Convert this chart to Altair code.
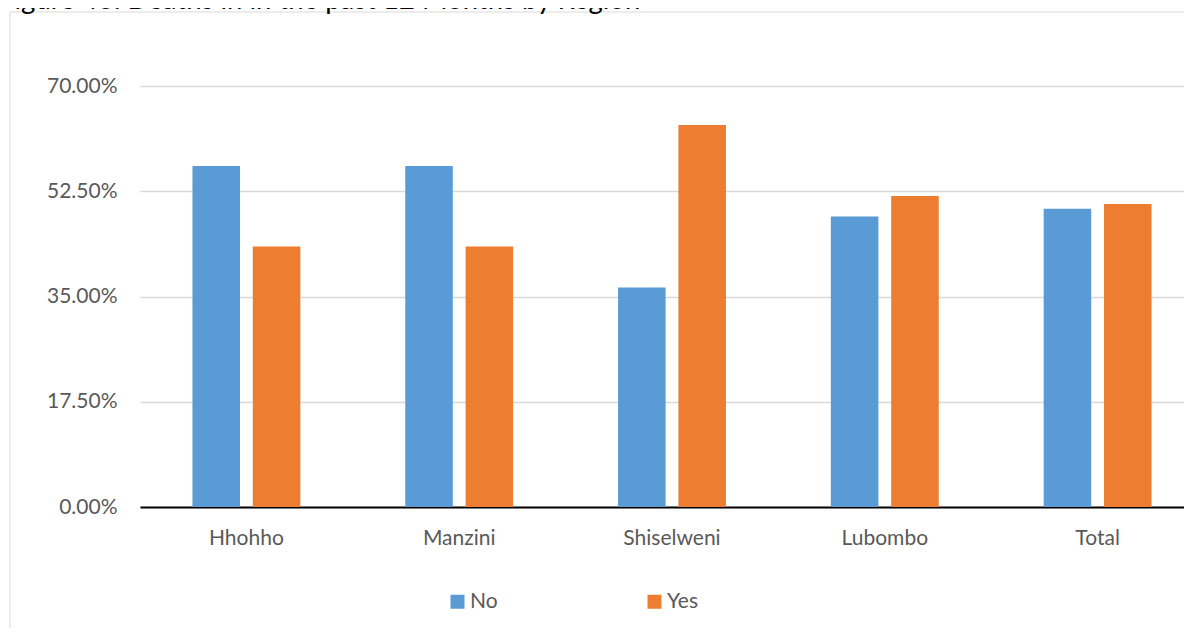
import altair as alt
import pandas as pd

regions = ["Hhohho", "Manzini", "Shiselweni", "Lubombo", "Total"]
no_vals = [56.7, 56.7, 36.5, 48.3, 49.6]
yes_vals = [43.3, 43.3, 63.5, 51.7, 50.4]
series = ["No", "Yes"]
colors = ["#5B9BD5", "#ED7D31"]
y_ticks = [0, 17.5, 35, 52.5, 70]
title = "Figure 43: Deaths in in the past 12 Months by Region"

rows = []
for r, n, y in zip(regions, no_vals, yes_vals):
    rows.append({"Region": r, "Answer": "No", "Value": n})
    rows.append({"Region": r, "Answer": "Yes", "Value": y})
df = pd.DataFrame(rows)

FONT = "Lato"
GREY = "#595959"

one = pd.DataFrame({"t": [title]})

border = alt.Chart(one).mark_rect(fill=None, stroke="#d9d9d9", strokeWidth=1).encode(
    x=alt.value(-130), x2=alt.value(1100), y=alt.value(-74), y2=alt.value(640)
)

title_mark = alt.Chart(one).mark_text(
    align="left", baseline="alphabetic", font=FONT, fontSize=27.5, color="#000000"
).encode(x=alt.value(-141), y=alt.value(-77), text="t:N")

bars = alt.Chart(df).mark_bar().encode(
    x=alt.X(
        "Region:N",
        sort=regions,
        scale=alt.Scale(paddingInner=0.493, paddingOuter=0.2465),
        axis=alt.Axis(
            title=None, labelAngle=0, ticks=False, tickSize=0, grid=False,
            domainColor="#000000", domainWidth=2, labelPadding=20,
            labelFontSize=21, labelColor=GREY, labelFont=FONT,
        ),
    ),
    xOffset=alt.XOffset("Answer:N", sort=series, scale=alt.Scale(paddingInner=0.212)),
    y=alt.Y(
        "Value:Q",
        scale=alt.Scale(domain=[0, 70], nice=False),
        axis=alt.Axis(
            title=None, values=y_ticks, domain=False, ticks=False, tickSize=0,
            gridColor="#d9d9d9", gridWidth=1.5, labelPadding=23,
            labelFontSize=21, labelColor=GREY, labelFont=FONT,
            labelExpr="format(datum.value, '.2f') + '%'",
        ),
    ),
    color=alt.Color(
        "Answer:N",
        sort=series,
        scale=alt.Scale(domain=series, range=colors),
        legend=alt.Legend(
            title=None, orient="none", legendX=307, legendY=505,
            direction="horizontal", symbolType="square", symbolSize=196,
            symbolStrokeWidth=0, labelOffset=2, columnPadding=146, padding=0,
            labelFontSize=21, labelColor=GREY, labelFont=FONT,
        ),
    ),
)

chart = alt.layer(border, title_mark, bars).properties(
    width=1064, height=421,
    autosize=alt.AutoSizeParams(type="none"),
    padding={"left": 132, "top": 78, "right": -20, "bottom": 121},
).configure_view(stroke=None)

chart.save("out.html", embed_options={"renderer": "svg", "actions": False})
